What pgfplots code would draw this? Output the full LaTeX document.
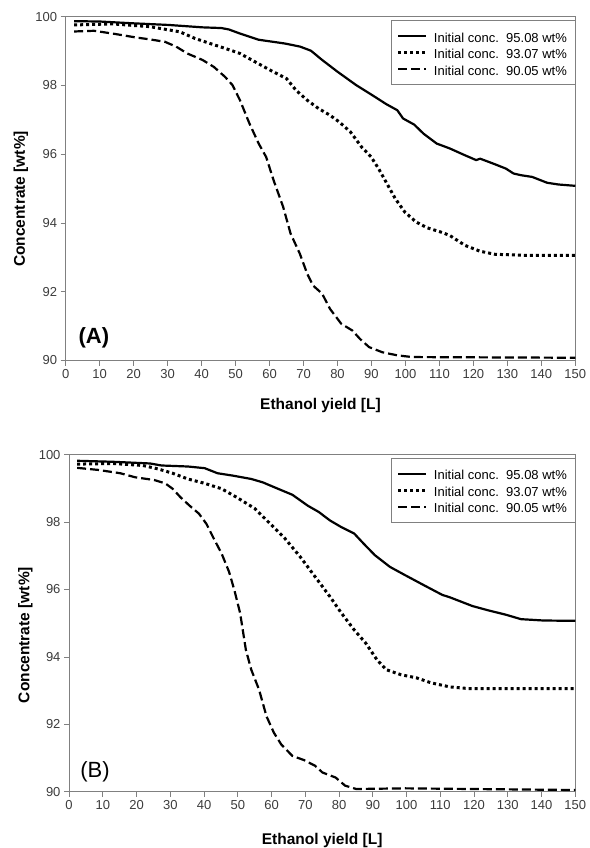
\documentclass[border=0pt]{standalone}
\usepackage{fontspec}
\setmainfont{Liberation Sans}
\usepackage{pgfplots}
\pgfplotsset{compat=1.18}
\definecolor{axgray}{RGB}{128,128,128}
\definecolor{tickgray}{RGB}{60,60,60}
\tikzset{
  solidln/.style={black, line width=2.2pt},
  dotln/.style={black, line width=3pt, dash pattern=on 3pt off 3pt},
  dashln/.style={black, line width=2.2pt, dash pattern=on 9pt off 4pt},
}
\pgfplotsset{
  panel/.style={
    scale only axis,
    anchor=north west,
    xmin=0, xmax=150, ymin=90, ymax=100,
    xtick={0,10,...,150}, ytick={90,92,...,100},
    tick align=outside, major tick length=5pt,
    xtick pos=bottom, ytick pos=left,
    axis line style={axgray, line width=0.8pt},
    tick style={axgray, line width=0.8pt},
    /pgf/number format/assume math mode=true,
    ticklabel style={font=\fontsize{13}{15}\selectfont, text=tickgray},
    label style={font=\fontsize{15.5}{18}\selectfont\bfseries},
    legend cell align=left,
    legend image code/.code={\draw[##1] (0pt,0pt) -- (28pt,0pt);},
    legend style={
      draw=axgray, line width=0.8pt,
      anchor=north east, at={(rel axis cs:1,0.99)},
      font=\fontsize{13}{15}\selectfont,
      inner xsep=6pt, inner ysep=7pt,
      nodes={inner ysep=0pt, text height=14.5pt, text depth=2pt},
      column sep=4pt,
    },
  },
}
\begin{document}
\begin{tikzpicture}
\useasboundingbox (0pt,0pt) rectangle (589pt,-848pt);
% ---------------- Panel A ----------------
\begin{axis}[panel,
  at={(65.7pt,-16.7pt)}, width=509.6pt, height=343.8pt,
  xlabel={Ethanol yield [L]}, ylabel={Concentrate [wt\%]},
  xlabel style={at={(axis description cs:0.5,-0.132)}, anchor=center},
  ylabel style={at={(axis description cs:-0.088,0.47)}, anchor=center},
]
\addplot[solidln] coordinates {(2.5,99.87) (10,99.86) (19.3,99.81) (30.3,99.76) (40.3,99.69) (45.8,99.67) (48,99.63) (51.3,99.51) (56.8,99.33) (59.6,99.29) (64.5,99.22) (69,99.13) (72.2,99.01) (75.5,98.74) (80,98.40) (85.5,98.01) (91,97.67) (94.3,97.46) (97.6,97.28) (99.3,97.04) (102.6,96.86) (105.3,96.60) (109.2,96.31) (113,96.17) (117.5,95.97) (120.8,95.83) (122,95.87) (126.3,95.71) (129.6,95.58) (131.8,95.44) (134,95.39) (137.3,95.34) (141.7,95.17) (145,95.12) (150,95.08)};
\addlegendentry{Initial conc.\ \ 95.08 wt\%}
\addplot[dotln] coordinates {(2.5,99.76) (13.8,99.79) (24.8,99.71) (33.6,99.56) (38,99.37) (42.5,99.22) (46.9,99.08) (51.3,98.93) (55.7,98.69) (60.1,98.45) (65,98.20) (67.8,97.86) (71.1,97.57) (74.4,97.33) (77.7,97.14) (80.5,96.94) (83.8,96.65) (87.1,96.21) (89.9,95.92) (92.1,95.58) (94.3,95.19) (97,94.71) (99.8,94.32) (103.1,94.03) (106.4,93.86) (110.3,93.74) (113,93.64) (117.5,93.35) (121.9,93.18) (126.3,93.09) (135,93.06) (150,93.06)};
\addlegendentry{Initial conc.\ \ 93.07 wt\%}
\addplot[dashln] coordinates {(2.5,99.57) (8.3,99.59) (13.8,99.51) (20.4,99.40) (24.8,99.34) (29.2,99.27) (32.5,99.13) (35.8,98.93) (40.3,98.74) (43.6,98.54) (46.9,98.25) (49.1,98.01) (51.3,97.57) (54.1,96.89) (56.8,96.31) (59,95.92) (61.2,95.24) (64,94.47) (66.2,93.69) (68.9,93.11) (71.1,92.52) (72.8,92.18) (74.4,92.04) (75.5,91.94) (77.8,91.50) (81.1,91.07) (84.4,90.87) (86.6,90.63) (89.3,90.39) (93.2,90.24) (97.6,90.15) (102,90.10) (150,90.08)};
\addlegendentry{Initial conc.\ \ 90.05 wt\%}
\node[font=\fontsize{22}{24}\selectfont\bfseries, anchor=center] at (axis cs:8.3,90.65) {(A)};
\end{axis}
% ---------------- Panel B ----------------
\begin{axis}[panel,
  at={(69pt,-454.7pt)}, width=506.3pt, height=337pt,
  xlabel={Ethanol yield [L]}, ylabel={Concentrate [wt\%]},
  xlabel style={at={(axis description cs:0.5,-0.145)}, anchor=center},
  ylabel style={at={(axis description cs:-0.086,0.465)}, anchor=center},
]
\addplot[solidln] coordinates {(2.4,99.82) (13,99.79) (24,99.74) (27.4,99.68) (35.2,99.65) (40.2,99.60) (44,99.45) (48.5,99.38) (54,99.28) (57.4,99.18) (60.7,99.04) (66.2,98.81) (70.7,98.49) (74,98.30) (77.3,98.05) (80.7,97.85) (84.5,97.66) (87.3,97.36) (90.6,97.02) (95.1,96.67) (99.5,96.43) (105.1,96.13) (110.6,95.84) (112.8,95.77) (119.5,95.51) (123.9,95.39) (129.5,95.25) (133.9,95.12) (140.6,95.08) (150,95.07)};
\addlegendentry{Initial conc.\ \ 95.08 wt\%}
\addplot[dotln] coordinates {(2.4,99.72) (13,99.74) (21.9,99.68) (26.3,99.58) (30.7,99.45) (35.2,99.28) (40.2,99.15) (45.2,98.99) (49.6,98.74) (55.1,98.40) (59.6,97.95) (64,97.51) (68.5,96.97) (72.9,96.38) (77.3,95.79) (80.7,95.30) (84.5,94.80) (87.9,94.41) (91.2,93.92) (94,93.62) (98.4,93.47) (102.9,93.38) (107.3,93.23) (112.8,93.11) (118.4,93.06) (150,93.06)};
\addlegendentry{Initial conc.\ \ 93.07 wt\%}
\addplot[dashln] coordinates {(2.4,99.61) (8.5,99.55) (15.2,99.45) (19.6,99.33) (25.2,99.25) (28.5,99.15) (30.7,98.99) (33,98.74) (35.7,98.49) (38.5,98.25) (40.7,97.95) (42.9,97.51) (45.2,97.07) (47.4,96.53) (49,95.98) (50.7,95.30) (52.4,94.21) (54,93.62) (56.3,93.03) (58.5,92.24) (60.7,91.75) (62.9,91.40) (66.2,91.06) (69.6,90.94) (72.9,90.77) (75.1,90.57) (79,90.42) (81.8,90.18) (85.1,90.08) (99.5,90.10) (150,90.05)};
\addlegendentry{Initial conc.\ \ 90.05 wt\%}
\node[font=\fontsize{22}{24}\selectfont, anchor=center] at (axis cs:7.7,90.6) {(B)};
\end{axis}
\end{tikzpicture}
\end{document}
